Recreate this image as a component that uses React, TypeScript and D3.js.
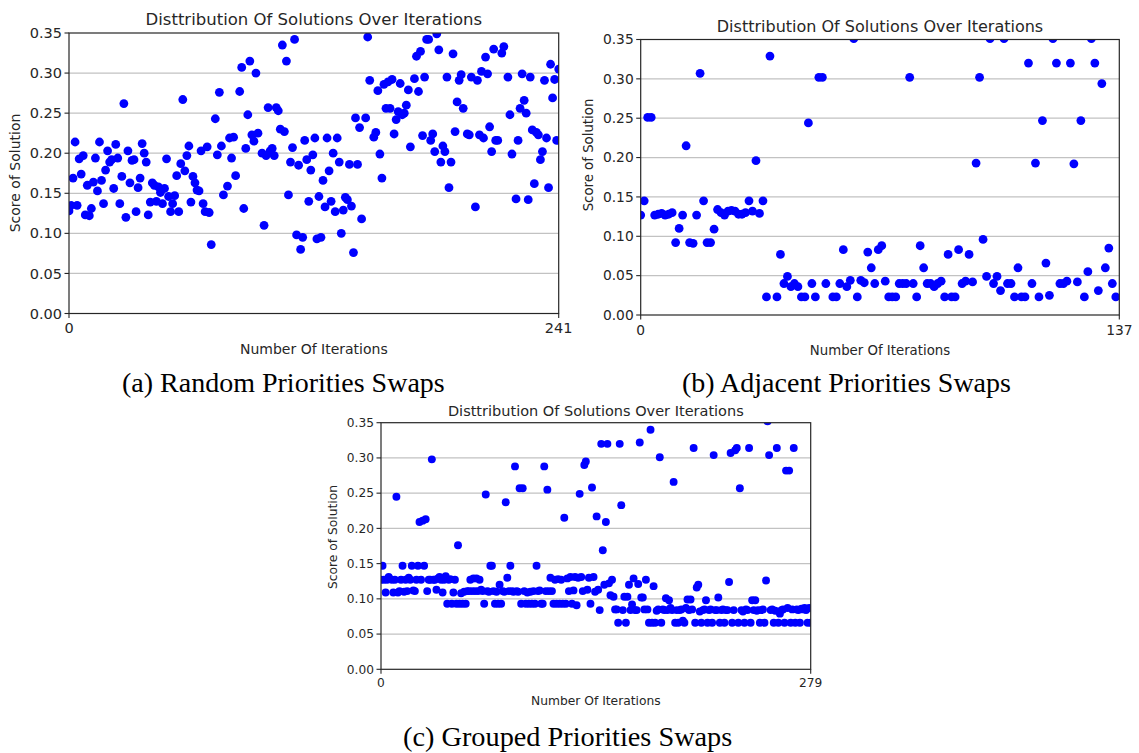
import React from "react";
import * as d3 from "d3";

// ---- Data: [iteration, score of solution] ----

const randomSwaps: [number, number][] = [
  [0, 0.128], [1, 0.135], [2, 0.169], [3, 0.214], [4, 0.135], [5, 0.193], [6, 0.174], [7, 0.197], [8, 0.123], [9, 0.16],
  [10, 0.122], [11, 0.131], [12, 0.164], [13, 0.194], [14, 0.153], [15, 0.214], [16, 0.166], [17, 0.137], [18, 0.179], [19, 0.203],
  [20, 0.189], [21, 0.192], [22, 0.156], [23, 0.211], [24, 0.194], [25, 0.137], [26, 0.171], [27, 0.262], [28, 0.12], [29, 0.203],
  [30, 0.163], [31, 0.191], [32, 0.192], [33, 0.127], [34, 0.157], [35, 0.169], [36, 0.212], [37, 0.2], [38, 0.189], [39, 0.123],
  [40, 0.139], [41, 0.163], [42, 0.16], [43, 0.14], [44, 0.158], [45, 0.151], [46, 0.137], [47, 0.156], [48, 0.193], [49, 0.146],
  [50, 0.127], [51, 0.137], [52, 0.147], [53, 0.172], [54, 0.127], [55, 0.187], [56, 0.267], [57, 0.178], [58, 0.197], [59, 0.209],
  [60, 0.139], [61, 0.171], [62, 0.163], [63, 0.154], [64, 0.153], [65, 0.203], [66, 0.137], [67, 0.127], [68, 0.208], [69, 0.126],
  [70, 0.086], [72, 0.243], [73, 0.198], [74, 0.276], [75, 0.209], [76, 0.148], [78, 0.159], [79, 0.219], [80, 0.194], [81, 0.22],
  [82, 0.172], [84, 0.277], [85, 0.307], [86, 0.131], [87, 0.206], [88, 0.248], [89, 0.315], [90, 0.223], [91, 0.215], [92, 0.3],
  [93, 0.225], [95, 0.2], [96, 0.11], [97, 0.197], [98, 0.257], [99, 0.203], [100, 0.206], [101, 0.197], [102, 0.257], [103, 0.253],
  [104, 0.23], [105, 0.335], [106, 0.227], [107, 0.315], [108, 0.148], [109, 0.189], [110, 0.207], [111, 0.342], [112, 0.098], [113, 0.185],
  [114, 0.08], [115, 0.095], [116, 0.216], [117, 0.192], [118, 0.14], [119, 0.179], [120, 0.198], [121, 0.219], [122, 0.093], [123, 0.146],
  [124, 0.095], [125, 0.166], [126, 0.133], [127, 0.219], [128, 0.178], [129, 0.14], [130, 0.2], [131, 0.127], [132, 0.219], [133, 0.189],
  [134, 0.1], [135, 0.129], [136, 0.145], [137, 0.142], [138, 0.186], [139, 0.134], [140, 0.076], [141, 0.244], [142, 0.186], [143, 0.232],
  [144, 0.118], [146, 0.244], [147, 0.345], [148, 0.291], [150, 0.22], [151, 0.226], [152, 0.278], [153, 0.199], [154, 0.169], [155, 0.286],
  [156, 0.256], [157, 0.289], [158, 0.256], [159, 0.292], [160, 0.224], [161, 0.242], [162, 0.252], [163, 0.287], [164, 0.248], [165, 0.25],
  [166, 0.26], [167, 0.279], [168, 0.208], [170, 0.293], [171, 0.321], [172, 0.277], [173, 0.327], [174, 0.222], [175, 0.295], [176, 0.342],
  [177, 0.342], [178, 0.216], [179, 0.224], [180, 0.202], [181, 0.349], [182, 0.329], [183, 0.189], [184, 0.209], [185, 0.202], [186, 0.295],
  [187, 0.157], [188, 0.189], [189, 0.324], [190, 0.227], [191, 0.264], [192, 0.291], [193, 0.298], [194, 0.256], [196, 0.224], [197, 0.223],
  [198, 0.295], [200, 0.133], [201, 0.291], [202, 0.223], [203, 0.302], [204, 0.219], [205, 0.32], [206, 0.299], [207, 0.233], [208, 0.202],
  [209, 0.33], [210, 0.216], [211, 0.216], [213, 0.325], [214, 0.333], [216, 0.295], [217, 0.248], [218, 0.199], [220, 0.143], [221, 0.216],
  [222, 0.256], [223, 0.299], [224, 0.266], [225, 0.25], [226, 0.142], [227, 0.295], [228, 0.229], [229, 0.162], [230, 0.226], [231, 0.223],
  [232, 0.192], [233, 0.202], [234, 0.291], [235, 0.219], [236, 0.157], [237, 0.311], [238, 0.269], [239, 0.292], [240, 0.216], [241, 0.305],
];

const adjacentSwaps: [number, number][] = [
  [0, 0.127], [1, 0.145], [2, 0.251], [3, 0.251], [4, 0.127], [5, 0.128], [6, 0.129], [7, 0.127], [8, 0.128], [9, 0.13],
  [10, 0.092], [11, 0.11], [12, 0.127], [13, 0.215], [14, 0.092], [15, 0.091], [16, 0.127], [17, 0.307], [18, 0.145], [19, 0.092],
  [20, 0.092], [21, 0.109], [22, 0.134], [23, 0.13], [24, 0.127], [25, 0.132], [26, 0.133], [27, 0.132], [28, 0.128], [29, 0.128],
  [30, 0.13], [31, 0.145], [32, 0.132], [33, 0.196], [34, 0.129], [35, 0.145], [36, 0.023], [37, 0.329], [39, 0.023], [40, 0.077],
  [41, 0.04], [42, 0.049], [43, 0.036], [44, 0.04], [45, 0.036], [46, 0.023], [47, 0.023], [48, 0.244], [49, 0.04], [50, 0.023],
  [51, 0.302], [52, 0.302], [53, 0.04], [55, 0.023], [56, 0.023], [57, 0.04], [58, 0.083], [59, 0.036], [60, 0.044], [61, 0.351],
  [62, 0.023], [63, 0.044], [64, 0.041], [65, 0.08], [66, 0.06], [67, 0.04], [68, 0.083], [69, 0.088], [70, 0.043], [71, 0.023],
  [72, 0.023], [73, 0.023], [74, 0.04], [75, 0.04], [76, 0.04], [77, 0.302], [78, 0.04], [79, 0.023], [80, 0.088], [81, 0.06],
  [82, 0.04], [83, 0.04], [84, 0.036], [85, 0.04], [86, 0.043], [87, 0.023], [88, 0.077], [89, 0.023], [90, 0.023], [91, 0.083],
  [92, 0.04], [93, 0.043], [94, 0.077], [95, 0.042], [96, 0.193], [97, 0.302], [98, 0.096], [99, 0.049], [100, 0.351], [101, 0.04],
  [102, 0.049], [103, 0.031], [104, 0.351], [105, 0.04], [106, 0.04], [107, 0.023], [108, 0.06], [109, 0.023], [110, 0.023], [111, 0.32],
  [112, 0.04], [113, 0.193], [114, 0.023], [115, 0.247], [116, 0.066], [117, 0.025], [118, 0.351], [119, 0.32], [120, 0.04], [121, 0.04],
  [122, 0.043], [123, 0.32], [124, 0.192], [125, 0.042], [126, 0.247], [127, 0.023], [128, 0.055], [129, 0.351], [130, 0.32], [131, 0.031],
  [132, 0.294], [133, 0.06], [134, 0.085], [135, 0.04], [136, 0.023],
];

// Grouped priorities swaps: one score per iteration, starting at 0
const groupedScores: number[] = [
  0.127, 0.147, 0.127, 0.109, 0.127, 0.131, 0.128, 0.127, 0.109, 0.127,
  0.245, 0.109, 0.111, 0.127, 0.147, 0.11, 0.127, 0.111, 0.13, 0.127,
  0.147, 0.112, 0.111, 0.127, 0.147, 0.209, 0.127, 0.211, 0.147, 0.213,
  0.111, 0.127, 0.127, 0.298, 0.127, 0.127, 0.113, 0.129, 0.131, 0.127,
  0.109, 0.127, 0.132, 0.093, 0.127, 0.128, 0.093, 0.109, 0.127, 0.093,
  0.176, 0.093, 0.108, 0.093, 0.11, 0.093, 0.111, 0.111, 0.127, 0.111,
  0.129, 0.111, 0.129, 0.111, 0.127, 0.113, 0.111, 0.093, 0.248, 0.111,
  0.11, 0.147, 0.147, 0.111, 0.093, 0.11, 0.093, 0.12, 0.093, 0.111,
  0.11, 0.237, 0.13, 0.111, 0.147, 0.111, 0.11, 0.288, 0.111, 0.11,
  0.257, 0.093, 0.257, 0.111, 0.093, 0.109, 0.093, 0.11, 0.093, 0.111,
  0.093, 0.147, 0.111, 0.112, 0.093, 0.093, 0.288, 0.111, 0.255, 0.111,
  0.13, 0.111, 0.093, 0.127, 0.093, 0.128, 0.093, 0.127, 0.093, 0.215,
  0.093, 0.129, 0.111, 0.131, 0.093, 0.112, 0.131, 0.091, 0.13, 0.249,
  0.131, 0.111, 0.29, 0.295, 0.113, 0.13, 0.093, 0.258, 0.131, 0.11,
  0.217, 0.113, 0.084, 0.32, 0.169, 0.12, 0.209, 0.32, 0.122, 0.105,
  0.127, 0.103, 0.085, 0.085, 0.066, 0.32, 0.233, 0.084, 0.103, 0.066,
  0.103, 0.12, 0.084, 0.092, 0.129, 0.084, 0.084, 0.121, 0.322, 0.102,
  0.102, 0.085, 0.127, 0.085, 0.066, 0.34, 0.066, 0.118, 0.066, 0.083,
  0.085, 0.301, 0.066, 0.085, 0.084, 0.101, 0.084, 0.098, 0.087, 0.084,
  0.266, 0.066, 0.084, 0.066, 0.084, 0.085, 0.069, 0.066, 0.087, 0.099,
  0.084, 0.099, 0.085, 0.314, 0.066, 0.116, 0.12, 0.082, 0.066, 0.084,
  0.085, 0.098, 0.066, 0.084, 0.085, 0.066, 0.304, 0.084, 0.084, 0.102,
  0.066, 0.084, 0.085, 0.066, 0.084, 0.084, 0.124, 0.307, 0.066, 0.084,
  0.311, 0.314, 0.066, 0.257, 0.084, 0.082, 0.066, 0.085, 0.084, 0.314,
  0.066, 0.098, 0.084, 0.098, 0.083, 0.084, 0.066, 0.084, 0.085, 0.066,
  0.126, 0.352, 0.304, 0.084, 0.085, 0.066, 0.083, 0.314, 0.066, 0.079,
  0.084, 0.085, 0.066, 0.282, 0.087, 0.282, 0.066, 0.085, 0.314, 0.066,
  0.085, 0.084, 0.066, 0.086, 0.085, 0.087, 0.084, 0.066, 0.087, 0.066,
];

const yTicks = [0, 0.05, 0.1, 0.15, 0.2, 0.25, 0.3, 0.35];
const chartTitle = "Disttribution Of Solutions Over Iterations";
const xAxisLabel = "Number Of Iterations";
const yAxisLabel = "Score of Solution";
const captions = [
  "(a) Random Priorities Swaps",
  "(b) Adjacent Priorities Swaps",
  "(c) Grouped Priorities Swaps",
];

type PanelProps = {
  id: string;
  points: [number, number][];
  xMax: number;
  x0: number;
  x1: number;
  y0: number;
  y1: number;
  r: number;
  tickSize: number;
  labelSize: number;
  titleSize: number;
  titleY: number;
  tickLabelY: number;
  xLabelY: number;
  yLabelX: number;
  yLabelY: number;
};

const SANS = "'DejaVu Sans', sans-serif";

function Panel(p: PanelProps) {
  const x = d3.scaleLinear().domain([0, p.xMax]).range([p.x0, p.x1]);
  const y = d3.scaleLinear().domain([0, 0.35]).range([p.y1, p.y0]);
  const fmt = d3.format(".2f");
  const cx = (p.x0 + p.x1) / 2;
  const gridTicks = yTicks.filter((t) => t > 0 && t < 0.35);
  return (
    <g>
      <defs>
        <clipPath id={`clip-${p.id}`}>
          <rect x={p.x0} y={p.y0} width={p.x1 - p.x0} height={p.y1 - p.y0} />
        </clipPath>
      </defs>
      {gridTicks.map((t) => (
        <line key={t} x1={p.x0} x2={p.x1} y1={y(t)} y2={y(t)} stroke="#c2c2c2" strokeWidth={1.3} />
      ))}
      <g clipPath={`url(#clip-${p.id})`}>
        {p.points.map(([it, s], i) => (
          <circle key={i} cx={x(it)} cy={y(s)} r={p.r} fill="#0000ff" />
        ))}
      </g>
      <rect x={p.x0} y={p.y0} width={p.x1 - p.x0} height={p.y1 - p.y0} fill="none" stroke="#262626" strokeWidth={1.2} />
      {yTicks.map((t) => (
        <g key={t}>
          <line x1={p.x0 - 4.5} x2={p.x0} y1={y(t)} y2={y(t)} stroke="#262626" strokeWidth={1.1} />
          <text x={p.x0 - 7} y={y(t)} dy="0.35em" textAnchor="end" fontFamily={SANS} fontSize={p.tickSize} fill="#262626">
            {fmt(t)}
          </text>
        </g>
      ))}
      {[0, p.xMax].map((t) => (
        <g key={t}>
          <line x1={x(t)} x2={x(t)} y1={p.y1} y2={p.y1 + 4.5} stroke="#262626" strokeWidth={1.1} />
          <text x={x(t)} y={p.tickLabelY} textAnchor="middle" fontFamily={SANS} fontSize={p.tickSize} fill="#262626">
            {t}
          </text>
        </g>
      ))}
      <text x={cx} y={p.titleY} textAnchor="middle" fontFamily={SANS} fontSize={p.titleSize} fill="#262626">
        {chartTitle}
      </text>
      <text x={cx} y={p.xLabelY} textAnchor="middle" fontFamily={SANS} fontSize={p.labelSize} fill="#262626">
        {xAxisLabel}
      </text>
      <text
        transform={`translate(${p.yLabelX},${p.yLabelY}) rotate(-90)`}
        dy="0.35em"
        textAnchor="middle"
        fontFamily={SANS}
        fontSize={p.labelSize}
        fill="#262626"
      >
        {yAxisLabel}
      </text>
    </g>
  );
}

export default function App() {
  const grouped: [number, number][] = groupedScores.map((s, i) => [i, s]);
  const captionFont = "'Liberation Serif', 'Times New Roman', serif";
  return (
    <>
      <style>{`body{margin:0}`}</style>
      <svg width={1139} height={753} style={{ display: "block", background: "#fff" }}>
        <Panel
          id="a" points={randomSwaps} xMax={241}
          x0={69} x1={558.7} y0={33} y1={313.5} r={4.4}
          tickSize={14.5} labelSize={14} titleSize={16.5}
          titleY={25} tickLabelY={333} xLabelY={354} yLabelX={15} yLabelY={173}
        />
        <Panel
          id="b" points={adjacentSwaps} xMax={137}
          x0={640.7} x1={1119.3} y0={39.5} y1={315} r={4.4}
          tickSize={13.8} labelSize={13.3} titleSize={16}
          titleY={32} tickLabelY={335} xLabelY={355} yLabelX={588.5} yLabelY={155}
        />
        <Panel
          id="c" points={grouped} xMax={279}
          x0={381} x1={810.7} y0={422.7} y1={669.3} r={3.95}
          tickSize={12.2} labelSize={12.3} titleSize={14.5}
          titleY={416} tickLabelY={687} xLabelY={705} yLabelX={333} yLabelY={537}
        />
        <text x={122} y={392} fontFamily={captionFont} fontSize={28} fill="#000">{captions[0]}</text>
        <text x={682} y={392} fontFamily={captionFont} fontSize={28} fill="#000">{captions[1]}</text>
        <text x={403} y={746} fontFamily={captionFont} fontSize={28.3} fill="#000">{captions[2]}</text>
      </svg>
    </>
  );
}
